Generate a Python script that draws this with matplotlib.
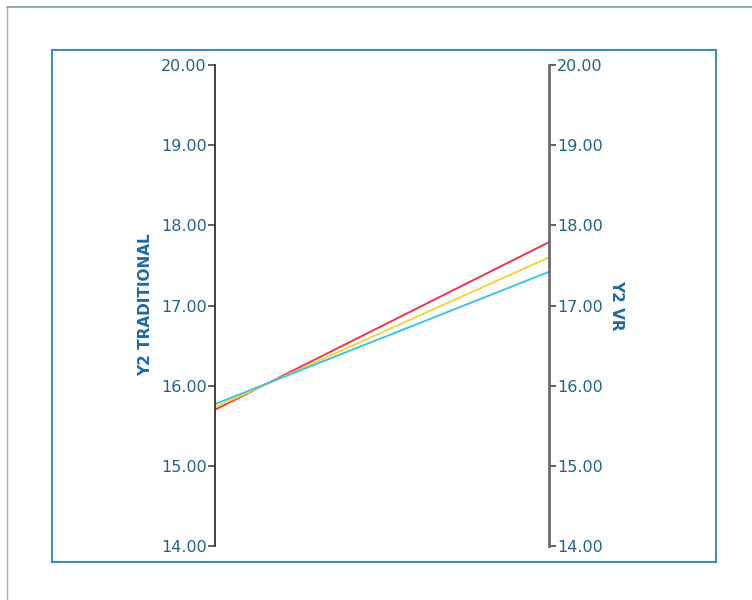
import matplotlib.pyplot as plt
from matplotlib.lines import Line2D
from matplotlib.patches import Rectangle

plt.rcParams['font.family'] = ['DejaVu Sans']

# data
axes_names = ['Y2 TRADITIONAL', 'Y2 VR']
series_colors = ['#e8364a', '#f5d63a', '#3cc4e0']
y2_traditional = [15.70, 15.73, 15.77]
y2_vr = [17.79, 17.60, 17.42]
ticks = [14, 15, 16, 17, 18, 19, 20]
tick_labels = ['%.2f' % t for t in ticks]

W, H = 752, 600
fig = plt.figure(figsize=(W / 100, H / 100), dpi=100)
fig.patch.set_facecolor('white')

# outer frame lines
fig.add_artist(Line2D([7 / W, 1], [1 - 7 / H, 1 - 7 / H], color='#7f9aa6', lw=1.2))
fig.add_artist(Line2D([7 / W, 7 / W], [0, 1 - 7 / H], color='#9fb3bc', lw=1.0))

# chart box
fig.add_artist(Rectangle((52 / W, 1 - 562 / H), (716 - 52) / W, (562 - 50) / H,
                         fill=False, edgecolor='#3b8cc0', lw=1.5))

ax = fig.add_axes([215 / W, 1 - 546 / H, (549 - 215) / W, (546 - 65) / H])
ax.set_facecolor('none')
for i in range(len(series_colors)):
    ax.plot([0, 1], [y2_traditional[i], y2_vr[i]], color=series_colors[i], lw=1.4,
            solid_capstyle='butt')
ax.set_xlim(0, 1)
ax.set_ylim(14, 20)

ax.spines['top'].set_visible(False)
ax.spines['bottom'].set_visible(False)
ax.spines['left'].set_color('#333333')
ax.spines['right'].set_color('#6b6b6b')
ax.spines['left'].set_linewidth(1.3)
ax.spines['right'].set_linewidth(2.0)
ax.set_xticks([])

ax.set_yticks(ticks)
ax.set_yticklabels(tick_labels)
ax.tick_params(axis='y', left=True, right=True, labelleft=True, labelright=True,
               direction='out', length=5, width=1.2, color='#444444',
               labelsize=11.5, labelcolor='#236389', pad=1)

fig.text(146 / W, 1 - 305 / H, axes_names[0], rotation=90, ha='center', va='center',
         fontsize=11, fontweight='bold', color='#1f6aa5')
fig.text(617 / W, 1 - 305 / H, axes_names[1], rotation=-90, ha='center', va='center',
         fontsize=11, fontweight='bold', color='#1f6aa5')

fig.savefig('out.png', dpi=100)
